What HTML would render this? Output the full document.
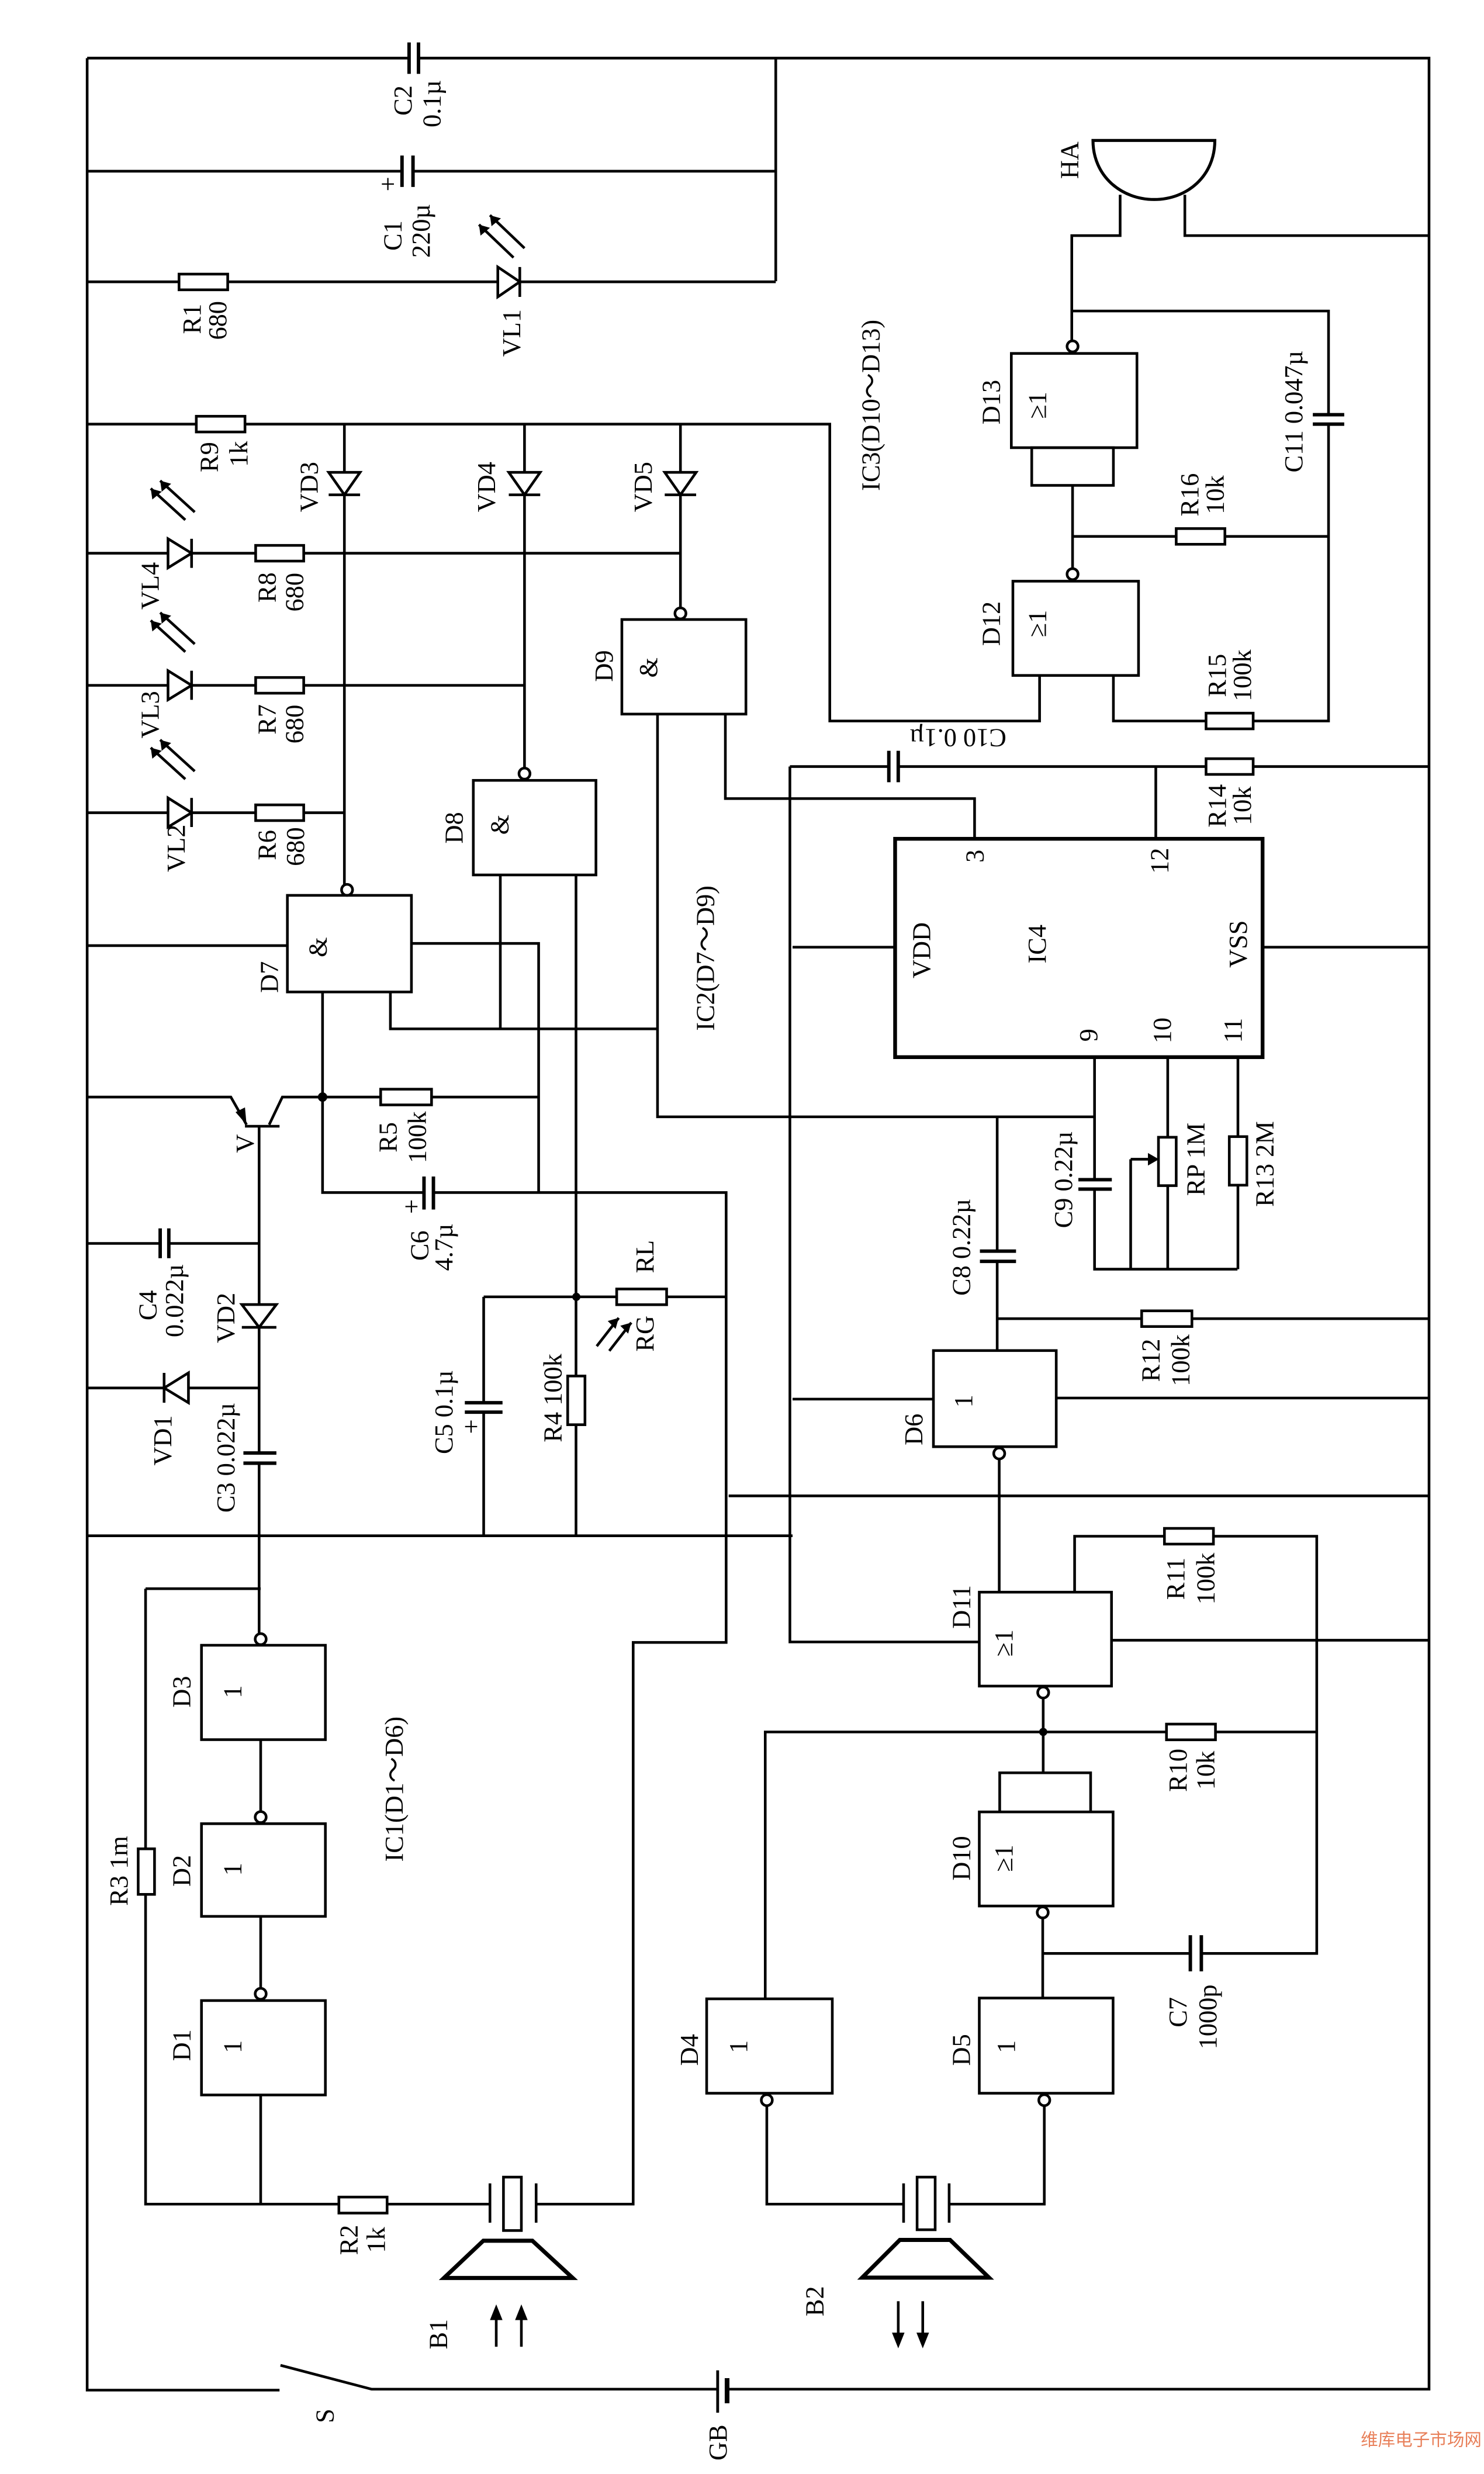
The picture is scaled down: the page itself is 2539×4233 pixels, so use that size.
<!DOCTYPE html>
<html><head><meta charset="utf-8"><style>
html,body{margin:0;padding:0;background:#fff}
svg{display:block}
text{font-family:"Liberation Serif",serif;font-size:16.5px;fill:#000}
</style></head><body>
<svg width="2539" height="4233" viewBox="0 0 945 1575" preserveAspectRatio="none" xmlns="http://www.w3.org/2000/svg">
<rect x="0" y="0" width="945" height="1575" fill="#fff"/>
<g stroke="#000" stroke-width="1.7" fill="none" stroke-linejoin="miter">
<path d="M55.5,37 H260.5 M266.5,37 H910 V1521 H463 M457,1521 H236.6 L178.6,1505.8 M178,1521.6 H55.5 V37"/>
<path d="M260.5,27 V47 M266.5,27 V47" stroke-width="2.2"/>
<path d="M457,1509 V1536" stroke-width="1.8"/><path d="M463,1514 V1530" stroke-width="3"/>
<path d="M494,37 V179"/>
<path d="M55.5,109 H256 M263,109 H494"/><path d="M256,99 V119 M263,99 V119" stroke-width="2.2"/>
<path d="M55.5,179.4 H114 M145,179.4 H317 M331,179.4 H494"/>
<rect x="114" y="174.5" width="31" height="10"/>
<path d="M317,170 L317,189 L331,179.4 Z M331,170 V189"/>
<path d="M55.5,270 H125 M156,270 H528.4 V459 H662 V430"/>
<rect x="125" y="265" width="31" height="10"/>
<path d="M219.3,270 V300.7 M219.3,315 V563 M334,270 V300.7 M334,315 V489 M433.3,270 V300.7 M433.3,315 V387"/>
<path d="M209.3,300.7 H229.3 L219.3,315 Z M209.3,315 H229.3"/>
<path d="M324,300.7 H344 L334,315 Z M324,315 H344"/>
<path d="M423.3,300.7 H443.3 L433.3,315 Z M423.3,315 H443.3"/>
<path d="M55.5,352.2 H107 M122,352.2 H162.8 M193.4,352.2 H433.3"/>
<rect x="162.8" y="347.2" width="30.6" height="10"/>
<path d="M107,343 L107,361.5 L122,352.2 Z M122,343 V361.5"/>
<path d="M55.5,436.3 H107 M122,436.3 H162.8 M193.4,436.3 H334"/>
<rect x="162.8" y="431.3" width="30.6" height="10"/>
<path d="M107,427 L107,445.5 L122,436.3 Z M122,427 V445.5"/>
<path d="M55.5,517.4 H107 M122,517.4 H162.8 M193.4,517.4 H219.3"/>
<rect x="162.8" y="512.4" width="30.6" height="10"/>
<path d="M107,508 L107,526.5 L122,517.4 Z M122,508 V526.5"/>
<path d="M327,164 L305,143 M334,158 L312,137"/>
<path d="M118,331 L96,311 M124,326 L102,306"/>
<path d="M118,415 L96,395 M124,410 L102,390"/>
<path d="M118,496 L96,476 M124,491 L102,471"/>
<rect x="396" y="394.4" width="79" height="60.2"/>
<circle cx="433.3" cy="390.5" r="3.5"/>
<path d="M418.7,454.6 V711 H697 M461.9,454.6 V508.4 H620.6 V534"/>
<rect x="301.4" y="496.8" width="78.1" height="60.2"/>
<circle cx="334" cy="492.5" r="3.5"/>
<path d="M318.6,557 V655 M366.8,557 V876 M366.8,907 V977.7"/>
<rect x="183" y="570" width="79" height="61.5"/>
<circle cx="221" cy="566.5" r="3.5"/>
<path d="M55.5,602 H183 M262,600.6 H343 V759.2 M248.6,631.5 V655 H419"/>
<path d="M205.4,631.5 V759.2 H270 M276,759.2 H462.4 V1045.6 H403.2 V1403.2 H341.4"/>
<path d="M270,749 V770 M276,749 V770" stroke-width="2.2"/>
<path d="M205.4,698.4 H242.4 M274.8,698.4 H343"/>
<rect x="242.4" y="693.4" width="32.4" height="10"/>
<path d="M55.5,698.4 H147 L157,716 M156,717 H178 M171.4,716 L179.8,698.4 H205.4 M165,717 V830.5 M165,845 V925 M165,931.5 V1039.5"/>
<path d="M154,830.5 H176 L165,845 Z M154,845 H176"/>
<path d="M155,925 H176 M155,931.5 H176" stroke-width="2.2"/>
<path d="M55.5,791.6 H102 M107.5,791.6 H165"/><path d="M102,782 V801 M107.5,782 V801" stroke-width="2.2"/>
<path d="M55.5,883.6 H104.5 M120,883.6 H165 M104.5,874 V893"/><path d="M104.5,883.6 L120,874 L120,893 Z"/>
<path d="M55.5,977.7 H504.7"/>
<path d="M308,825.6 V893 M308,899 V977.7 M308,825.6 H392.7 M424.5,825.6 H462.4"/>
<path d="M296,893 H320 M296,899 H320" stroke-width="2.2"/>
<rect x="392.7" y="820.6" width="31.8" height="10"/>
<rect x="361.5" y="876" width="11" height="31"/>
<path d="M380,857 L394,839 M388,860 L402,842"/>
<path d="M92.7,1011.4 H166 M92.7,1011.4 V1177 M92.7,1206 V1403.2 H215.8 M246.5,1403.2 H312"/>
<rect x="88" y="1177" width="10.4" height="29"/>
<rect x="215.8" y="1398.7" width="30.7" height="10.2"/>
<path d="M312,1390 V1415 M341.4,1390 V1415"/>
<rect x="320.6" y="1386" width="11.4" height="34"/>
<rect x="128.3" y="1047.4" width="78.9" height="60.1"/><circle cx="166" cy="1043.5" r="3.5"/>
<rect x="128.3" y="1161" width="78.9" height="59"/><circle cx="166" cy="1156.8" r="3.5"/>
<rect x="128.3" y="1273.6" width="78.9" height="60.1"/><circle cx="166" cy="1269.3" r="3.5"/>
<path d="M166,1107.5 V1153.3 M166,1220 V1265.8 M166,1333.7 V1403.2"/>
<path d="M307.8,1426.5 H339 L364.7,1450.2 H282.7 Z" stroke-width="2.6"/>
<path d="M316,1494 V1472 M332,1494 V1472"/>
<rect x="570" y="534" width="234" height="139" stroke-width="2.4"/>
<path d="M504.7,603 H570 M804,603 H910"/>
<path d="M503,488 V1045.3 H623.6 M503,488 H566 M572,488 H768 M798,488 H910 M736,488 V534"/>
<path d="M566,478 V498 M572,478 V498" stroke-width="2.2"/>
<rect x="768" y="483" width="30" height="10"/>
<rect x="645" y="370" width="80" height="60"/><circle cx="683" cy="365.5" r="3.5"/>
<path d="M683,362 V309 M709,430 V459 H768 M798,459 H846 V270 M846,264 V198 H682"/>
<rect x="768" y="454" width="30" height="10"/>
<path d="M836,264 H856 M836,270 H856" stroke-width="2.2"/>
<path d="M683,341.5 H749 M780,341.5 H846"/>
<rect x="749" y="336.5" width="31" height="10"/>
<rect x="644" y="225" width="80" height="60"/>
<rect x="657" y="285" width="52" height="24"/>
<circle cx="683" cy="220.5" r="3.5"/>
<path d="M682.5,217 V150 H713.3 V124 M754.5,124 V150 H910"/>
<path d="M696,89.4 H773.6 C773.6,112 756,127 735,127 C714,127 696,112 696,89.4 Z" stroke-width="1.9"/>
<path d="M697,673 V751 M697,757 V808 H788 M743.6,673 V724 M743.6,755 V808 M788.3,673 V723.6 M788.3,754.5 V808 M720,738 V808"/>
<path d="M686.7,751 H708 M686.7,757 H708" stroke-width="2.2"/>
<rect x="737.7" y="724" width="11.3" height="30.8"/>
<rect x="782.8" y="723.6" width="11.2" height="30.9"/>
<path d="M720,738 H731"/>
<path d="M635,711 V796.5 M635,803 V859.8 M635,839.5 H727 M759,839.5 H910"/>
<path d="M624,796.5 H647 M624,803 H647" stroke-width="2.2"/>
<rect x="727" y="834.5" width="32" height="10"/>
<rect x="594.4" y="859.8" width="78.2" height="61.2"/><circle cx="636.3" cy="925.3" r="3.5"/>
<path d="M636.3,928.8 V1013.6 M504.7,890.7 H594.4 M672.6,890 H910 M464,952.3 H910"/>
<rect x="623.6" y="1013.6" width="84.2" height="59.8"/><circle cx="664.3" cy="1077.5" r="3.5"/>
<path d="M707.8,1044.2 H910 M684.3,1013.6 V978 H741.5 M772.7,978 H838.5 V1243.6 H765 M758,1243.6 H664"/>
<rect x="741.5" y="973" width="31.2" height="10"/>
<path d="M758,1232 V1255 M765,1232 V1255" stroke-width="2.2"/>
<path d="M664.3,1081 V1128.6 M487.3,1272.5 V1102.6 H742.8 M774,1102.6 H838.5"/>
<rect x="742.8" y="1097.6" width="31.2" height="10"/>
<path d="M636.6,1153.5 V1128.6 H694.5 V1153.5"/>
<rect x="623.6" y="1153.5" width="85.2" height="59.9"/><circle cx="664" cy="1217.5" r="3.5"/>
<path d="M664,1221 V1272"/>
<rect x="623.6" y="1272" width="85.2" height="60.6"/><circle cx="665" cy="1337" r="3.5"/>
<rect x="450" y="1272.5" width="80" height="60.1"/><circle cx="488.3" cy="1337" r="3.5"/>
<path d="M665,1340.5 V1403.2 H604.4 M575.4,1403.2 H488.3 V1340.5"/>
<path d="M575.4,1390 V1415 M604.4,1390 V1415"/>
<rect x="584" y="1386" width="11.5" height="33.5"/>
<path d="M573,1426 H605 L629.8,1450 H549 Z" stroke-width="2.6"/>
<path d="M572,1465 V1490 M587.6,1465 V1490"/>
</g>
<g fill="#000">
<circle cx="205.4" cy="698.4" r="3"/><circle cx="367" cy="825.6" r="2.6"/><circle cx="664.3" cy="1102.6" r="2.6"/>
<path d="M157,716 L150,708 L156,705 Z"/>
<path d="M305,143 L306,150 L312,145 Z M312,137 L313,144 L319,139 Z"/>
<path d="M96,311 L97,318 L103,313 Z M102,306 L103,313 L109,308 Z"/>
<path d="M96,395 L97,402 L103,397 Z M102,390 L103,397 L109,392 Z"/>
<path d="M96,476 L97,483 L103,478 Z M102,471 L103,478 L109,473 Z"/>
<path d="M394,839 L387,841 L392,846 Z M402,842 L395,844 L400,849 Z"/>
<path d="M731,734 L738,738 L731,742 Z"/>
<path d="M316,1467 L312,1477 L320,1477 Z M332,1467 L328,1477 L336,1477 Z"/>
<path d="M572,1495 L568,1485 L576,1485 Z M587.6,1495 L583.6,1485 L591.6,1485 Z"/>
</g>
<g text-anchor="middle" dominant-baseline="central">
<text transform="translate(256.5,64) rotate(-90)">C2</text>
<text transform="translate(274.8,66) rotate(-90)">0.1µ</text>
<text x="247" y="117">+</text>
<text transform="translate(250,150) rotate(-90)">C1</text>
<text transform="translate(268,147) rotate(-90)">220µ</text>
<text transform="translate(122,203) rotate(-90)">R1</text>
<text transform="translate(138.5,204) rotate(-90)">680</text>
<text transform="translate(325.6,212) rotate(-90)">VL1</text>
<text transform="translate(133,291) rotate(-90)">R9</text>
<text transform="translate(151.8,289) rotate(-90)">1k</text>
<text transform="translate(196.7,310) rotate(-90)">VD3</text>
<text transform="translate(309.7,310) rotate(-90)">VD4</text>
<text transform="translate(409.4,310) rotate(-90)">VD5</text>
<text transform="translate(95.4,373) rotate(-90)">VL4</text>
<text transform="translate(170,374) rotate(-90)">R8</text>
<text transform="translate(187.4,377) rotate(-90)">680</text>
<text transform="translate(95.4,455) rotate(-90)">VL3</text>
<text transform="translate(170,458) rotate(-90)">R7</text>
<text transform="translate(187.4,461) rotate(-90)">680</text>
<text transform="translate(112,540) rotate(-90)">VL2</text>
<text transform="translate(170,538) rotate(-90)">R6</text>
<text transform="translate(188,539) rotate(-90)">680</text>
<text transform="translate(384.5,424) rotate(-90)">D9</text>
<text transform="translate(412.7,425) rotate(-90)">&amp;</text>
<text transform="translate(289,527) rotate(-90)">D8</text>
<text transform="translate(318,525) rotate(-90)">&amp;</text>
<text transform="translate(171.4,622) rotate(-90)">D7</text>
<text transform="translate(202.3,603) rotate(-90)">&amp;</text>
<text transform="translate(449,610) rotate(-90)">IC2(D7～D9)</text>
<text transform="translate(156,728) rotate(-90)">V</text>
<text transform="translate(247,724) rotate(-90)">R5</text>
<text transform="translate(265.6,724) rotate(-90)">100k</text>
<text x="262" y="768">+</text>
<text transform="translate(267,793) rotate(-90)">C6</text>
<text transform="translate(282.5,794) rotate(-90)">4.7µ</text>
<text transform="translate(94,831) rotate(-90)">C4</text>
<text transform="translate(111,828) rotate(-90)">0.022µ</text>
<text transform="translate(143.7,839) rotate(-90)">VD2</text>
<text transform="translate(103.5,917) rotate(-90)">VD1</text>
<text transform="translate(143.7,928) rotate(-90)">C3 0.022µ</text>
<text transform="translate(282.5,899) rotate(-90)">C5  0.1µ</text>
<text x="300" y="908">+</text>
<text transform="translate(352,890) rotate(-90)">R4 100k</text>
<text transform="translate(410.6,800) rotate(-90)">RL</text>
<text transform="translate(410.6,849) rotate(-90)">RG</text>
<text transform="translate(250.8,1139) rotate(-90)">IC1(D1～D6)</text>
<text transform="translate(115.5,1077) rotate(-90)">D3</text>
<text transform="translate(148,1077) rotate(-90)">1</text>
<text transform="translate(115.5,1191) rotate(-90)">D2</text>
<text transform="translate(148,1190) rotate(-90)">1</text>
<text transform="translate(115.5,1302) rotate(-90)">D1</text>
<text transform="translate(148,1303) rotate(-90)">1</text>
<text transform="translate(75.6,1191) rotate(-90)">R3 1m</text>
<text transform="translate(222,1426) rotate(-90)">R2</text>
<text transform="translate(239.4,1426) rotate(-90)">1k</text>
<text transform="translate(279,1486) rotate(-90)">B1</text>
<text transform="translate(206.7,1538) rotate(-90)">S</text>
<text transform="translate(457,1555) rotate(-90)">GB</text>
<text transform="translate(518.7,1465) rotate(-90)">B2</text>
<text transform="translate(438.8,1305) rotate(-90)">D4</text>
<text transform="translate(470,1303) rotate(-90)">1</text>
<text transform="translate(612,1305) rotate(-90)">D5</text>
<text transform="translate(640.5,1303) rotate(-90)">1</text>
<text transform="translate(612,1183) rotate(-90)">D10</text>
<text transform="translate(639,1183) rotate(-90)">≥1</text>
<text transform="translate(750,1127) rotate(-90)">R10</text>
<text transform="translate(767.6,1127) rotate(-90)">10k</text>
<text transform="translate(750,1281) rotate(-90)">C7</text>
<text transform="translate(769,1284) rotate(-90)">1000p</text>
<text transform="translate(612,1023) rotate(-90)">D11</text>
<text transform="translate(639,1046) rotate(-90)">≥1</text>
<text transform="translate(748.5,1005) rotate(-90)">R11</text>
<text transform="translate(767.6,1005) rotate(-90)">100k</text>
<text transform="translate(581.7,910) rotate(-90)">D6</text>
<text transform="translate(613.4,892) rotate(-90)">1</text>
<text transform="translate(732.6,866) rotate(-90)">R12</text>
<text transform="translate(751.7,866) rotate(-90)">100k</text>
<text transform="translate(612,794) rotate(-90)">C8 0.22µ</text>
<text transform="translate(677,751) rotate(-90)">C9 0.22µ</text>
<text transform="translate(761.4,738) rotate(-90)">RP 1M</text>
<text transform="translate(805.3,741) rotate(-90)">R13 2M</text>
<text transform="translate(693,659) rotate(-90)">9</text>
<text transform="translate(740,656) rotate(-90)">10</text>
<text transform="translate(785,656) rotate(-90)">11</text>
<text transform="translate(620.6,545) rotate(-90)">3</text>
<text transform="translate(738.3,548) rotate(-90)">12</text>
<text transform="translate(586.8,605) rotate(-90)">VDD</text>
<text transform="translate(660.3,601) rotate(-90)">IC4</text>
<text transform="translate(788.3,601) rotate(-90)">VSS</text>
<text transform="translate(775,513) rotate(-90)">R14</text>
<text transform="translate(791,513) rotate(-90)">10k</text>
<text transform="translate(610,470) rotate(180)">C10 0.1µ</text>
<text transform="translate(775,430) rotate(-90)">R15</text>
<text transform="translate(791,430) rotate(-90)">100k</text>
<text transform="translate(757.4,315) rotate(-90)">R16</text>
<text transform="translate(773.6,315) rotate(-90)">10k</text>
<text transform="translate(823.6,262) rotate(-90)">C11 0.047µ</text>
<text transform="translate(631,397) rotate(-90)">D12</text>
<text transform="translate(660.5,397) rotate(-90)">≥1</text>
<text transform="translate(631,256) rotate(-90)">D13</text>
<text transform="translate(660.5,258) rotate(-90)">≥1</text>
<text transform="translate(554.4,258) rotate(-90)">IC3(D10～D13)</text>
<text transform="translate(681,102) rotate(-90)">HA</text>
</g>
<text x="905" y="1557" text-anchor="middle" style="font-family:'Liberation Sans','Noto Sans CJK SC',sans-serif;font-size:11px;fill:#e8805a">维库电子市场网</text>
</svg>
</body></html>
